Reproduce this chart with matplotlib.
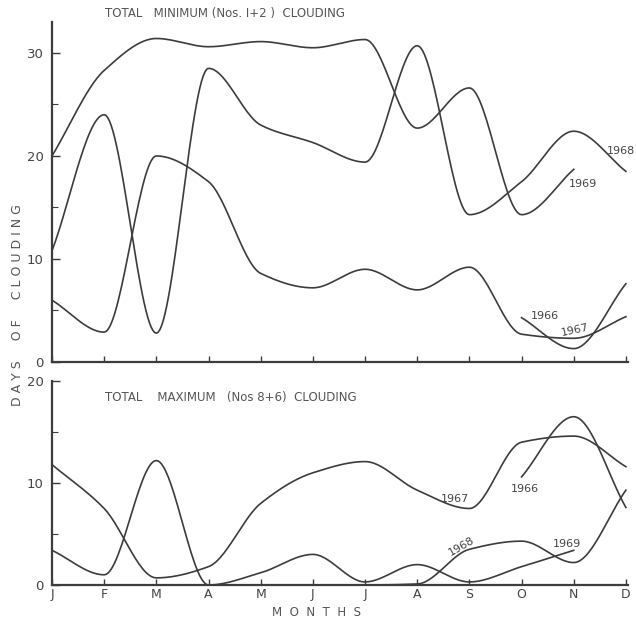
import numpy as np
import matplotlib.pyplot as plt
from matplotlib.ticker import MultipleLocator

nan = np.nan
months = ['J', 'F', 'M', 'A', 'M', 'J', 'J', 'A', 'S', 'O', 'N', 'D']

# total minimum (Nos 1+2) clouding, days per month
min_1966 = [nan, nan, nan, nan, nan, nan, nan, nan, nan, 4.3, 1.3, 7.6]
min_1967 = [6.0, 2.9, 20.0, 17.5, 8.6, 7.2, 9.0, 7.0, 9.2, 2.7, 2.3, 4.4]
min_1968 = [10.8, 24.0, 2.8, 28.5, 23.0, 21.3, 19.4, 30.7, 14.3, 17.5, 22.4, 18.5]
min_1969 = [20.0, 28.3, 31.4, 30.6, 31.1, 30.5, 31.3, 22.7, 26.6, 14.3, 18.7, nan]

# total maximum (Nos 8+6) clouding
max_1966 = [nan, nan, nan, nan, nan, nan, nan, nan, nan, 10.6, 16.5, 7.6]
max_1967 = [11.8, 7.5, 0.7, 1.8, 8.0, 11.0, 12.1, 9.3, 7.5, 14.0, 14.6, 11.6]
max_1968 = [0, 0, 0, 0, 0, 0, 0, 0.1, 3.5, 4.3, 2.2, 9.3]
max_1969 = [3.4, 1.0, 12.2, 0.0, 1.2, 3.0, 0.3, 2.0, 0.3, 1.8, 3.4, nan]

INK = '#3c3c3c'
W, H = 636, 620


def smooth(vals, n=30):
    # monotone cubic drawn through the monthly values (hand drawn look)
    y = np.asarray(vals, float)
    x = np.arange(len(y), dtype=float)
    ok = ~np.isnan(y)
    x, y = x[ok], y[ok]
    h = np.diff(x)
    d = np.diff(y) / h
    m = np.zeros_like(y)
    m[0], m[-1] = d[0], d[-1]
    for k in range(1, len(y) - 1):
        if d[k - 1] * d[k] > 0:
            w1 = 2 * h[k] + h[k - 1]
            w2 = h[k] + 2 * h[k - 1]
            m[k] = (w1 + w2) / (w1 / d[k - 1] + w2 / d[k])
    xs, ys = [], []
    for k in range(len(h)):
        t = np.linspace(0, 1, n, endpoint=False)
        h00 = 2 * t**3 - 3 * t**2 + 1
        h10 = t**3 - 2 * t**2 + t
        h01 = -2 * t**3 + 3 * t**2
        h11 = t**3 - t**2
        xs.append(x[k] + t * h[k])
        ys.append(h00 * y[k] + h10 * h[k] * m[k] + h01 * y[k + 1] + h11 * h[k] * m[k + 1])
    xs.append([x[-1]])
    ys.append([y[-1]])
    return np.concatenate(xs), np.concatenate(ys)


def px(x, y):
    return x / W, 1 - y / H


def style(ax, ymax, major, labels):
    ax.set_xlim(0, 11.04)
    ax.set_ylim(0, ymax)
    for s in ['top', 'right']:
        ax.spines[s].set_visible(False)
    for s in ['left', 'bottom']:
        ax.spines[s].set_color(INK)
        ax.spines[s].set_linewidth(1.6)
    ax.set_xticks(range(12))
    ax.set_xticklabels(months if labels else [])
    ax.yaxis.set_major_locator(MultipleLocator(major))
    ax.yaxis.set_minor_locator(MultipleLocator(5))
    ax.tick_params(axis='x', direction='in', length=4, width=1, color=INK,
                   labelsize=9, labelcolor='#444', pad=2)
    ax.tick_params(axis='y', which='major', direction='in', length=6, width=1,
                   color=INK, labelsize=9.5, labelcolor='#444', pad=6)
    ax.tick_params(axis='y', which='minor', direction='in', length=4, width=0.8, color=INK)
    ax.patch.set_alpha(0)


fig = plt.figure(figsize=(6.36, 6.2), dpi=100)

ax1 = fig.add_axes([52 / W, 1 - 362 / H, 576 / W, 340 / H])
ax2 = fig.add_axes([52 / W, 1 - 585 / H, 576 / W, 204 / H])

for series in [min_1966, min_1967, min_1968, min_1969]:
    ax1.plot(*smooth(series), color=INK, lw=1.2, clip_on=False)
for series in [max_1966, max_1967, max_1968, max_1969]:
    ax2.plot(*smooth(series), color=INK, lw=1.2, clip_on=False)

style(ax1, 33, 10, False)
style(ax2, 20, 10, True)
ax1.set_yticks([0, 10, 20, 30])
ax2.set_yticks([0, 10, 20])

tkw = dict(color='#555', fontsize=8.5)
fig.text(*px(105, 14), 'TOTAL   MINIMUM (Nos. I+2 )  CLOUDING', va='center', ha='left', **tkw)
fig.text(*px(105, 398), 'TOTAL    MAXIMUM   (Nos 8+6)  CLOUDING', va='center', ha='left', **tkw)
fig.text(*px(18, 305), 'D A Y S     O F     C L O U D I N G', rotation=90,
         va='center', ha='center', color='#555', fontsize=9)
fig.text(*px(316, 613), 'M  O  N  T  H  S', va='center', ha='center', color='#555', fontsize=8.5)

lkw = dict(color='#444', fontsize=8, va='center', ha='center')
fig.text(*px(621, 151), '1968', **lkw)
fig.text(*px(583, 184), '1969', **lkw)
fig.text(*px(545, 316), '1966', **lkw)
fig.text(*px(575, 330), '1967', rotation=12, **lkw)
fig.text(*px(455, 499), '1967', **lkw)
fig.text(*px(525, 489), '1966', **lkw)
fig.text(*px(462, 546), '1968', rotation=30, **lkw)
fig.text(*px(567, 544), '1969', **lkw)

fig.savefig('out.png', dpi=100, facecolor='white')
